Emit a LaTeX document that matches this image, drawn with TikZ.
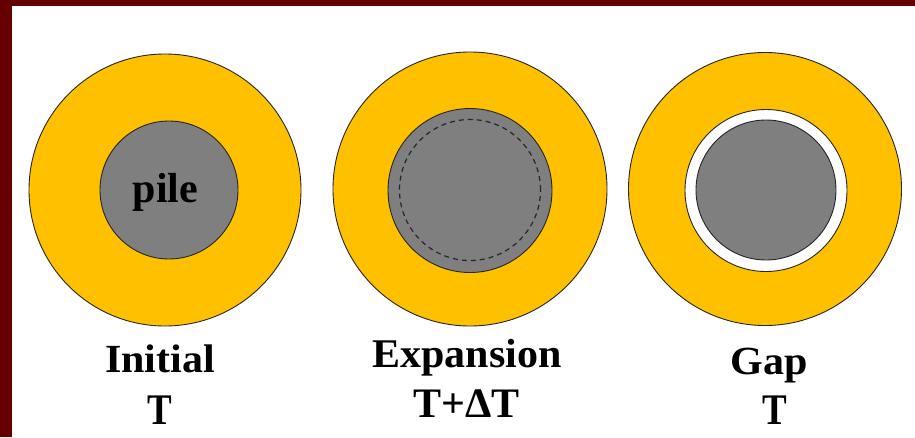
\documentclass[tikz,border=0pt]{standalone}
\usepackage{fontspec}
\setmainfont{Liberation Serif}
\definecolor{maroon}{HTML}{660000}
\definecolor{gold}{HTML}{FFC000}
\definecolor{pilegray}{HTML}{7F7F7F}
\begin{document}
\begin{tikzpicture}[x=1pt,y=-1pt,
  ring/.style={circle,draw=black!85,line width=0.9pt,inner sep=0pt,outer sep=0pt,fill=gold,minimum size=#1},
  pilec/.style={circle,draw=black!85,line width=0.9pt,inner sep=0pt,outer sep=0pt,fill=pilegray,minimum size=#1},
  gapc/.style={circle,draw=black!85,line width=0.9pt,inner sep=0pt,outer sep=0pt,fill=white,minimum size=#1},
  dashc/.style={circle,draw=black!85,dash pattern=on 5pt off 4pt,line width=1.2pt,inner sep=0pt,outer sep=0pt,minimum size=#1},
  lbl/.style={anchor=base,inner sep=0pt,font=\bfseries\fontsize{42}{50}\selectfont}]
\useasboundingbox (0,0) rectangle (915,437);
\fill[white] (0,0) rectangle (915,437);
\fill[maroon] (0,0) rectangle (915,6);
\fill[maroon] (0,0) rectangle (12,437);
% Initial
\node[ring=272pt] (o1) at (165,190) {};
\node[pilec=138pt] (p1) at (169,190) {};
\node[lbl] (pile) at (165.5,202) {pile};
\node[lbl] (l1a) at (160,372) {\scalebox{1}[0.95]{Initial}};
\node[lbl] (l1b) at (160,424) {\scalebox{0.88}[1.04]{T}};
% Expansion
\node[ring=274pt] (o2) at (470,189) {};
\node[pilec=164pt] (p2) at (470,190.5) {};
\node[dashc=141pt] (d2) at (470,190) {};
\node[lbl] (l2a) at (467,367) {\scalebox{1}[0.97]{Expansion}};
\node[lbl] (l2b) at (466.5,417) {T+ΔT};
% Gap
\node[ring=273pt] (o3) at (765,189) {};
\node[gapc=162pt] (g3) at (766,190.5) {};
\node[pilec=140pt] (p3) at (766,190) {};
\node[lbl] (l3a) at (769,374) {\scalebox{1}[0.95]{Gap}};
\node[lbl] (l3b) at (775,424) {\scalebox{0.88}[1.04]{T}};
\end{tikzpicture}
\end{document}
